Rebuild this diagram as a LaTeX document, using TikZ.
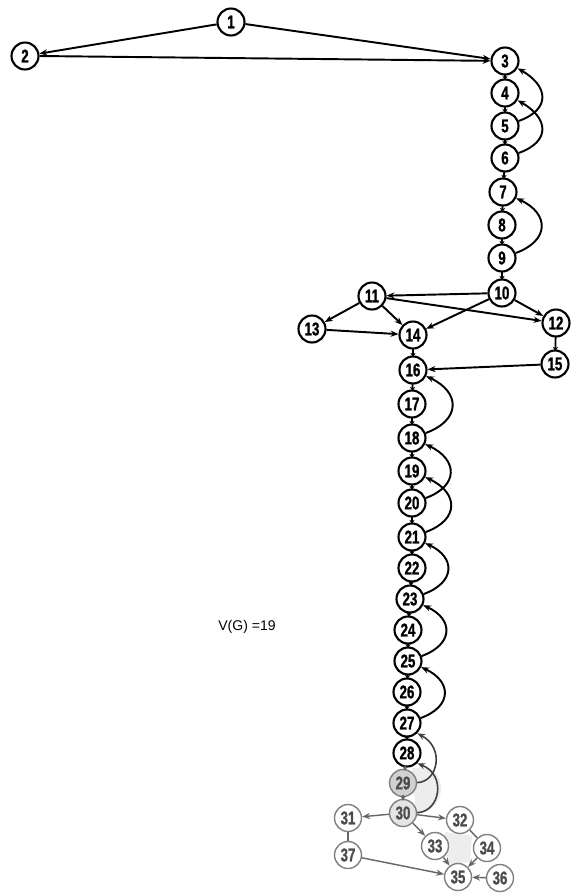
\documentclass[tikz,border=0pt]{standalone}
\usepackage{fontspec}
\newfontfamily\numfont[FakeStretch=0.72,BoldFeatures={FakeBold=1.2}]{Liberation Sans}
\setsansfont{Liberation Sans}
\usetikzlibrary{arrows.meta}
\begin{document}
\begin{tikzpicture}[x=0.02cm,y=-0.02cm,
  vtx/.style={circle,draw,line width=1.2pt,minimum size=0.54cm,inner sep=0pt,
    font=\numfont\bfseries\fontsize{10.5}{10.5}\selectfont},
  pale/.style={vtx,draw=black!50,text=black!70,line width=0.8pt},
  arc/.style={-{Stealth[length=4.5pt,width=3.5pt]},line width=1.1pt},
  palearc/.style={arc,draw=black!60,line width=0.8pt},
  link/.style={-{Stealth[length=2.5pt,width=3pt]},line width=1pt,shorten <=-1pt,shorten >=-1pt}]
  \useasboundingbox (0,0) rectangle (581,894);
  % faint shading of the scanned lower part
  \fill[black!7] (412,768) .. controls (432,765) and (442,775) .. (441,790)
    .. controls (440,805) and (430,812) .. (416,814) -- cycle;
  \fill[black!7] (445,832) -- (472,836) -- (470,862) -- (447,864) -- cycle;
  \node[vtx] (n1) at (231,22) {1};
  \node[vtx] (n2) at (25,56) {2};
  \node[vtx] (n3) at (505,61) {3};
  \node[vtx] (n4) at (505,93) {4};
  \node[vtx] (n5) at (505,126) {5};
  \node[vtx] (n6) at (505,158) {6};
  \node[vtx] (n7) at (503,192) {7};
  \node[vtx] (n8) at (502,225) {8};
  \node[vtx] (n9) at (502,258) {9};
  \node[vtx] (n10) at (502,293) {10};
  \node[vtx] (n11) at (372,296) {11};
  \node[vtx] (n12) at (556,323) {12};
  \node[vtx] (n13) at (312,329) {13};
  \node[vtx] (n14) at (413,335) {14};
  \node[vtx] (n15) at (555,364) {15};
  \node[vtx] (n16) at (413,370) {16};
  \node[vtx] (n17) at (412,404) {17};
  \node[vtx] (n18) at (412,438) {18};
  \node[vtx] (n19) at (412,471) {19};
  \node[vtx] (n20) at (412,503) {20};
  \node[vtx] (n21) at (412,537) {21};
  \node[vtx] (n22) at (412,568) {22};
  \node[vtx] (n23) at (410,599) {23};
  \node[vtx] (n24) at (408,630) {24};
  \node[vtx] (n25) at (408,661) {25};
  \node[vtx] (n26) at (407,692) {26};
  \node[vtx] (n27) at (407,723) {27};
  \node[vtx] (n28) at (407,753) {28};
  \node[pale,fill=black!18] (n29) at (403,783) {29};
  \node[pale,fill=black!10] (n30) at (403,813) {30};
  \node[pale] (n31) at (348,818) {31};
  \node[pale,fill=white] (n32) at (460,820) {32};
  \node[pale,fill=white] (n33) at (435,846) {33};
  \node[pale,fill=white] (n34) at (487,848) {34};
  \node[pale,fill=white] (n35) at (458,877) {35};
  \node[pale,fill=white] (n36) at (500,878) {36};
  \node[pale] (n37) at (348,855) {37};
  \node[font=\sffamily\fontsize{8}{8}\selectfont] (vg) at (247,627) {V(G) =19};
  % top part
  \draw[arc] (n1) -- (n2);
  \draw[arc] (n1) -- (n3);
  \draw[arc] (n2.east) -- (n3);
  \draw[link] (n3) -- (n4); \draw[link] (n4) -- (n5); \draw[link] (n5) -- (n6);
  \draw[link] (n6) -- (n7); \draw[link] (n7) -- (n8); \draw[link] (n8) -- (n9);
  \draw[link] (n9) -- (n10);
  \draw[arc] (n5) to[out=20,in=-30,looseness=1.7] (n3);
  \draw[arc] (n6) to[out=20,in=-30,looseness=1.7] (n4);
  \draw[arc] (n9) to[out=20,in=-25,looseness=1.7] (n7);
  % middle part
  \draw[arc] (n10) -- (n11);
  \draw[arc] (n10) -- (n14);
  \draw[arc] (n10) -- (n12);
  \draw[arc] (n11) -- (n13);
  \draw[arc] (n11) -- (n14);
  \draw[arc] (n11) -- (n12);
  \draw[arc] (n13) -- (n14);
  \draw[link] (n12) -- (n15);
  \draw[arc] (n15) -- (n16);
  \draw[link] (n14) -- (n16); \draw[link] (n16) -- (n17); \draw[link] (n17) -- (n18);
  \draw[link] (n18) -- (n19); \draw[link] (n19) -- (n20); \draw[link] (n20) -- (n21);
  \draw[link] (n21) -- (n22); \draw[link] (n22) -- (n23); \draw[link] (n23) -- (n24);
  \draw[link] (n24) -- (n25); \draw[link] (n25) -- (n26); \draw[link] (n26) -- (n27);
  \draw[link] (n27) -- (n28);
  \draw[arc] (n18) to[out=20,in=-25,looseness=1.7] (n16);
  \draw[arc] (n20) to[out=20,in=-25,looseness=1.7] (n18);
  \draw[arc] (n21) to[out=20,in=-25,looseness=1.7] (n19);
  \draw[arc] (n23) to[out=20,in=-25,looseness=1.7] (n21);
  \draw[arc] (n25) to[out=20,in=-25,looseness=1.7] (n23);
  \draw[arc] (n27) to[out=20,in=-25,looseness=1.7] (n25);
  % lower part
  \draw[link,draw=black!60] (n28) -- (n29);
  \draw[link,draw=black!60] (n29) -- (n30);
  \draw[arc,draw=black!75,line width=0.9pt] (n29) .. controls (438,782) and (445,748) .. (n27.south east);
  \draw[arc,draw=black!75,line width=0.9pt] (n30) .. controls (440,812) and (447,775) .. (n28.south east);
  \draw[palearc] (n30) -- (n31);
  \draw[palearc] (n30) -- (n32);
  \draw[palearc] (n30) -- (n33);
  \draw[draw=black!60,line width=0.8pt] (n31) -- (n37);
  \draw[draw=black!60,line width=0.8pt] (n32) -- (n34);
  \draw[palearc] (n33) -- (n35);
  \draw[palearc] (n34) -- (n35);
  \draw[palearc] (n36) -- (n35);
  \draw[palearc] (n37) -- (n35);
\end{tikzpicture}
\end{document}
